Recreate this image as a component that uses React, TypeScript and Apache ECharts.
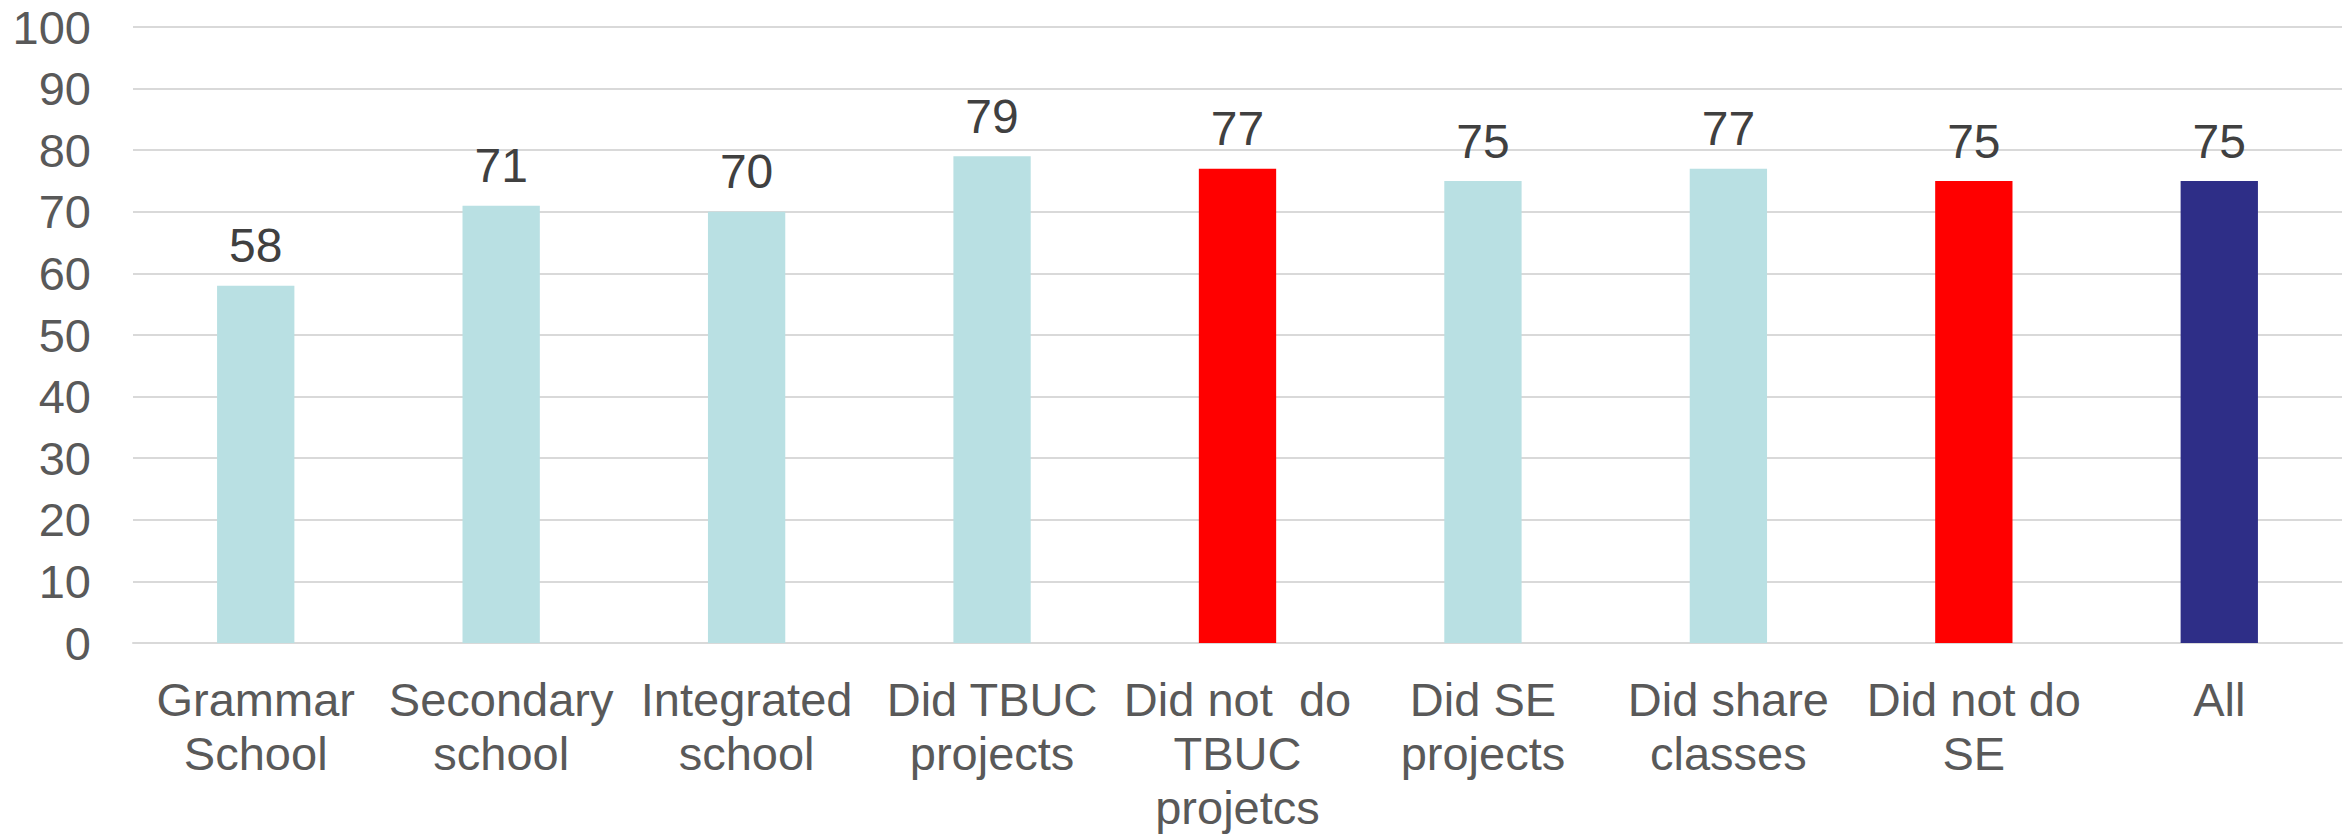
import React, { useEffect, useRef } from "react";
import * as echarts from "echarts";

const categories = [
  "Grammar\nSchool",
  "Secondary\nschool",
  "Integrated\nschool",
  "Did TBUC\nprojects",
  "Did not  do\nTBUC\nprojetcs",
  "Did SE\nprojects",
  "Did share\nclasses",
  "Did not do\nSE",
  "All",
];
const values = [58, 71, 70, 79, 77, 75, 77, 75, 75];
const barColors = [
  "#B9E0E3",
  "#B9E0E3",
  "#B9E0E3",
  "#B9E0E3",
  "#FF0000",
  "#B9E0E3",
  "#B9E0E3",
  "#FF0000",
  "#2E2E87",
];
const yMin = 0;
const yMax = 100;
const yInterval = 10;

const FONT = "'Liberation Sans', Arial, sans-serif";

export default function App() {
  const ref = useRef<HTMLDivElement>(null);
  useEffect(() => {
    if (!ref.current) return;
    const chart = echarts.init(ref.current, undefined, { renderer: "svg" });
    chart.setOption({
      animation: false,
      backgroundColor: "#ffffff",
      grid: { left: 133, right: 9, top: 27, bottom: 193, containLabel: false },
      xAxis: {
        type: "category",
        data: categories,
        axisLine: { show: true, lineStyle: { color: "#D9D9D9", width: 2 } },
        axisTick: { show: false },
        axisLabel: {
          interval: 0,
          color: "#595959",
          fontFamily: FONT,
          fontSize: 47,
          lineHeight: 54,
          margin: 29,
        },
      },
      yAxis: {
        type: "value",
        min: yMin,
        max: yMax,
        interval: yInterval,
        axisLine: { show: false },
        axisTick: { show: false },
        splitLine: { show: true, lineStyle: { color: "#D9D9D9", width: 2 } },
        axisLabel: {
          color: "#595959",
          fontFamily: FONT,
          fontSize: 47,
          margin: 42,
        },
      },
      series: [
        {
          type: "bar",
          data: values.map((v, i) => ({ value: v, itemStyle: { color: barColors[i] } })),
          barWidth: "31.5%",
          label: {
            show: true,
            position: "top",
            distance: 16,
            color: "#404040",
            fontFamily: FONT,
            fontSize: 48,
          },
        },
      ],
    });
    return () => chart.dispose();
  }, []);
  return (
    <div
      ref={ref}
      style={{ position: "fixed", left: 0, top: 0, width: 2351, height: 836 }}
    />
  );
}
